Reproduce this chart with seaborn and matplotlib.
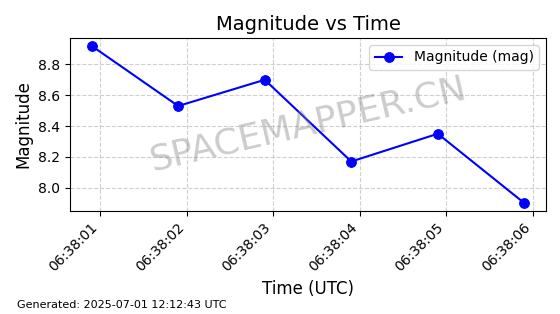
import matplotlib
matplotlib.use("Agg")
import matplotlib.pyplot as plt
import matplotlib.dates as mdates
import seaborn as sns
import pandas as pd

times = ["2025-07-01 06:38:00.9", "2025-07-01 06:38:01.9", "2025-07-01 06:38:02.9",
         "2025-07-01 06:38:03.9", "2025-07-01 06:38:04.9", "2025-07-01 06:38:05.9"]
magnitudes = [8.92, 8.53, 8.70, 8.17, 8.35, 7.90]

df = pd.DataFrame({"time": pd.to_datetime(times), "mag": magnitudes})

fig, ax = plt.subplots(figsize=(5.6, 3.14), dpi=100)
fig.subplots_adjust(left=0.125, right=0.975, top=0.879, bottom=0.328)

sns.lineplot(data=df, x="time", y="mag", ax=ax, color="blue", marker="o",
             markersize=7, markeredgecolor="blue", linewidth=1.5, label="Magnitude (mag)")

ax.set_title("Magnitude vs Time", fontsize=14)
ax.set_xlabel("Time (UTC)", fontsize=12)
ax.set_ylabel("Magnitude", fontsize=12)
ax.grid(True, linestyle="--", alpha=0.6)
ax.xaxis.set_major_locator(mdates.SecondLocator())
ax.xaxis.set_major_formatter(mdates.DateFormatter("%H:%M:%S"))
plt.setp(ax.get_xticklabels(), rotation=45, ha="right")
ax.legend(loc="upper right")

ax.text(0.5, 0.5, "SPACEMAPPER.CN", transform=ax.transAxes, fontsize=26,
        color="gray", alpha=0.4, rotation=13, ha="center", va="center")

fig.text(0.03, 0.02, "Generated: 2025-07-01 12:12:43 UTC", fontsize=8)

fig.savefig("out.png", dpi=100)
